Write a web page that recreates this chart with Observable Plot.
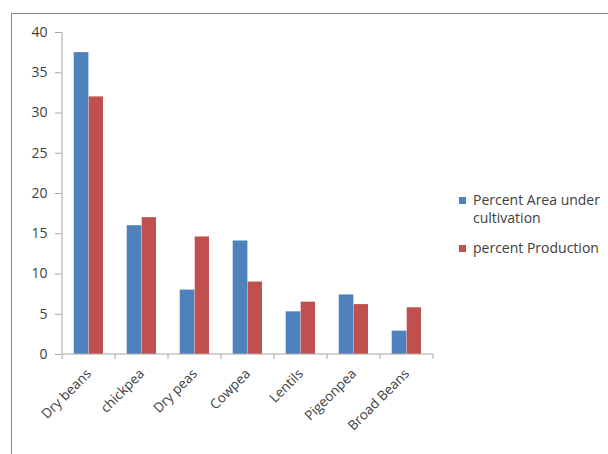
<!DOCTYPE html>
<html>
<head>
<meta charset="utf-8">
<script src="https://cdn.jsdelivr.net/npm/d3@7"></script>
<script src="https://cdn.jsdelivr.net/npm/@observablehq/plot@0.6"></script>
<style>
  html, body { margin: 0; padding: 0; background: #fff; }
  #wrap { position: relative; width: 608px; height: 454px; overflow: hidden; font-family: "Open Sans", sans-serif; }
  #frame { position: absolute; left: 11px; top: 13px; width: 640px; height: 480px; border: 1.5px solid #8a8a8a; box-sizing: border-box; }
  #chart { position: absolute; left: 0; top: 0; }
  #legend { position: absolute; left: 459px; top: 191px; font-size: 14px; color: #404040; line-height: 18px; }
  .item { position: relative; padding-left: 14px; margin-bottom: 12px; }
  .sw { position: absolute; left: 0; top: 6px; width: 7px; height: 7px; }
</style>
</head>
<body>
<div id="wrap">
  <div id="frame"></div>
  <div id="chart"></div>
  <div id="legend"></div>
</div>
<script>
const categories = ["Dry beans", "chickpea", "Dry peas", "Cowpea", "Lentils", "Pigeonpea", "Broad Beans"];
const seriesNames = ["Percent Area under cultivation", "percent Production"];
const areaValues = [37.5, 16.0, 8.0, 14.1, 5.3, 7.4, 2.9];
const productionValues = [32.0, 17.0, 14.6, 9.0, 6.5, 6.2, 5.8];
const yTicks = [0, 5, 10, 15, 20, 25, 30, 35, 40];
const colors = ["#4F81BD", "#C0504D"];

const areaData = categories.map((c, i) => ({category: c, value: areaValues[i], series: seriesNames[0]}));
const prodData = categories.map((c, i) => ({category: c, value: productionValues[i], series: seriesNames[1]}));

function axisLines(index, scales) {
  const x = scales.x;
  const xs = categories.map(c => x(c));
  const step = xs[1] - xs[0];
  xs.push(xs[xs.length - 1] + step);
  const y0 = scales.y(0);
  const yTop = scales.y(yTicks[yTicks.length - 1]);
  const g = d3.create("svg:g");
  g.selectAll("line.t").data(xs).join("line")
    .attr("x1", d => d).attr("x2", d => d)
    .attr("y1", y0).attr("y2", y0 + 5)
    .attr("stroke", "#a6a6a6").attr("stroke-width", 1);
  g.append("line").attr("x1", xs[0]).attr("x2", xs[xs.length - 1])
    .attr("y1", y0).attr("y2", y0).attr("stroke", "#a6a6a6");
  g.append("line").attr("x1", xs[0]).attr("x2", xs[0])
    .attr("y1", yTop).attr("y2", y0).attr("stroke", "#a6a6a6");
  return g.node();
}

const chart = Plot.plot({
  width: 608,
  height: 454,
  marginLeft: 61,
  marginRight: 174,
  marginTop: 32,
  marginBottom: 100,
  style: {fontFamily: "Open Sans, sans-serif", fontSize: "13px", color: "#404040", background: "transparent"},
  x: {domain: categories, padding: 0, label: null},
  y: {domain: [0, 40], label: null},
  marks: [
    Plot.barY(areaData, {x: "category", y: "value", fill: colors[0], insetLeft: 11.7, insetRight: 26.6}),
    Plot.barY(prodData, {x: "category", y: "value", fill: colors[1], insetLeft: 26.7, insetRight: 12.0}),
    Plot.axisY({ticks: yTicks, tickSize: 6, tickPadding: 8, stroke: "#a6a6a6", label: null, fontSize: 14}),
    Plot.axisX({tickSize: 0, tickPadding: 17, tickRotate: -45, label: null, fontSize: 13.5}),
    axisLines
  ]
});
document.getElementById("chart").appendChild(chart);

const legend = document.getElementById("legend");
const labels = [["Percent Area under", "cultivation"], ["percent Production"]];
labels.forEach((lines, i) => {
  const item = document.createElement("div");
  item.className = "item";
  const sw = document.createElement("span");
  sw.className = "sw";
  sw.style.background = colors[i];
  item.appendChild(sw);
  const txt = document.createElement("span");
  txt.innerHTML = lines.join("<br>");
  item.appendChild(txt);
  legend.appendChild(item);
});
</script>
</body>
</html>
